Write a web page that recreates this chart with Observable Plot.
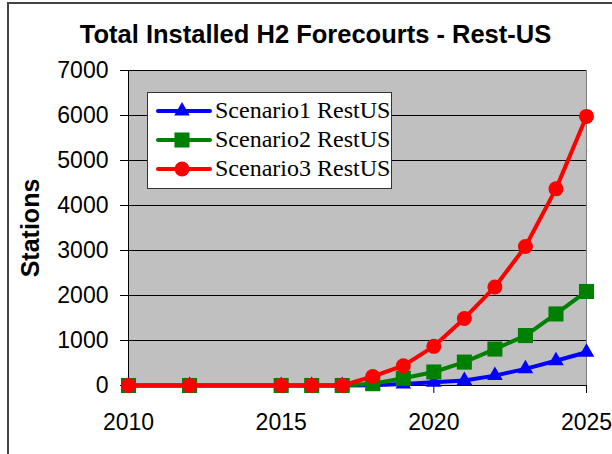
<!DOCTYPE html>
<html><head><meta charset="utf-8">
<script src="https://cdn.jsdelivr.net/npm/d3@7"></script>
<script src="https://cdn.jsdelivr.net/npm/@observablehq/plot@0.6"></script>
<style>
html,body{margin:0;padding:0;background:#fff;width:612px;height:454px;overflow:hidden;}
#wrap{position:relative;width:612px;height:454px;overflow:hidden;}
#frame{position:absolute;left:7px;top:2px;width:700px;height:600px;border-left:2px solid #444;border-top:2px solid #444;}
#chart{position:absolute;left:0;top:0;}
#legend{position:absolute;left:147px;top:92px;width:245px;height:97px;background:#fff;border:1.5px solid #333;box-sizing:border-box;font-family:"Liberation Serif","Times New Roman",serif;font-size:24px;color:#000;}
.row{position:absolute;left:0;height:29px;display:flex;align-items:center;white-space:nowrap;}
.row svg{margin-left:8px;margin-right:3px;}
</style>
</head><body>
<div id="wrap"><div id="frame"></div><div id="chart"></div><div id="legend"></div></div>
<script>
const years = [2010,2012,2015,2016,2017,2018,2019,2020,2021,2022,2023,2024,2025];
const scenario1 = [0,0,0,0,0,5,35,70,110,220,370,550,740];
const scenario2 = [0,0,0,0,0,40,160,300,520,810,1110,1590,2090];
const scenario3 = [0,0,0,0,0,200,440,870,1490,2190,3090,4370,5980];
const seriesNames = ["Scenario1 RestUS","Scenario2 RestUS","Scenario3 RestUS"];
const seriesColors = ["#0000ff","#008000","#ff0000"];
const seriesSymbols = ["triangle","square","circle"];
const seriesR = [5.8,8.5,7.5];
const yTicks = [0,1000,2000,3000,4000,5000,6000,7000];
const xTicks = [2010,2015,2020,2025];
const title = "Total Installed H2 Forecourts - Rest-US";
const yLabel = "Stations";

const allValues = [scenario1, scenario2, scenario3];
const series = allValues.map((vals, i) => years.map((yr, j) => ({year: yr, value: vals[j], name: seriesNames[i]})));

const seriesMarks = series.flatMap((data, i) => [
  Plot.line(data, {x: "year", y: "value", stroke: seriesColors[i], strokeWidth: 4, strokeLinejoin: "round", strokeLinecap: "round"}),
  Plot.dot(data, {x: "year", y: "value", symbol: () => seriesSymbols[i], fill: seriesColors[i], stroke: "none", r: seriesR[i]})
]);

const chart = Plot.plot({
  width: 612, height: 454,
  marginTop: 70, marginRight: 26, marginBottom: 69, marginLeft: 128,
  style: {fontFamily: "'Liberation Sans', Arial, sans-serif", color: "#000", background: "transparent", overflow: "visible"},
  x: {domain: [2010, 2025]},
  y: {domain: [0, 7000]},
  symbol: {type: "identity"},
  marks: [
    Plot.frame({fill: "#c0c0c0", stroke: "#808080"}),
    Plot.ruleY(yTicks.filter(d => d > 0), {stroke: "#000", strokeWidth: 1}),
    Plot.axisY({ticks: yTicks, tickSize: 8, tickPadding: 12, fontSize: 23, tickFormat: d3.format("d"), label: null, stroke: "#000"}),
    Plot.axisX({ticks: xTicks, tickSize: 8, tickPadding: 20, fontSize: 23, tickFormat: d3.format("d"), label: null, stroke: "#000"}),
    Plot.ruleX([2010], {stroke: "#000"}),
    Plot.ruleY([0], {stroke: "#000"}),
    ...seriesMarks,
    Plot.text([title], {text: d => d, frameAnchor: "top", textAnchor: "middle", dx: -42, dy: -46, fontSize: 25.5, fontWeight: "bold", fill: "#000"}),
    Plot.text([yLabel], {text: d => d, frameAnchor: "left", textAnchor: "middle", dx: -98, rotate: -90, fontSize: 25, fontWeight: "bold", fill: "#000"})
  ]
});
document.getElementById("chart").appendChild(chart);

const legend = document.getElementById("legend");
seriesNames.forEach((name, i) => {
  const row = document.createElement("div");
  row.className = "row";
  row.style.top = (3 + i * 29) + "px";
  const sym = d3.symbol().type({triangle: d3.symbolTriangle, square: d3.symbolSquare, circle: d3.symbolCircle}[seriesSymbols[i]]).size(Math.PI * seriesR[i] * seriesR[i])();
  row.innerHTML = `<svg width="56" height="22"><line x1="2" x2="54" y1="11" y2="11" stroke="${seriesColors[i]}" stroke-width="4" stroke-linecap="round"/><path transform="translate(26,11)" d="${sym}" fill="${seriesColors[i]}"/></svg><span>${name}</span>`;
  legend.appendChild(row);
});
</script>
</body></html>
